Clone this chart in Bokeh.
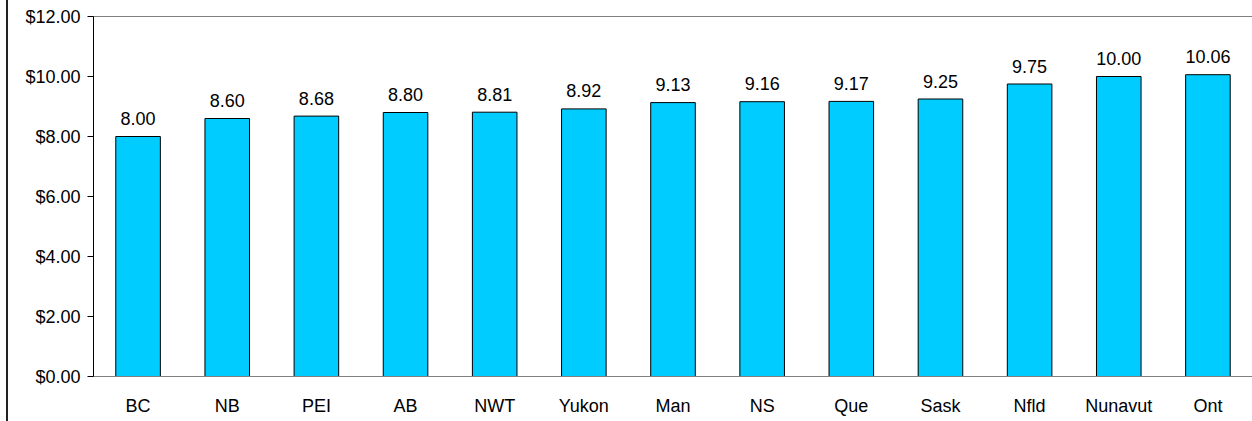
from bokeh.plotting import figure
from bokeh.models import ColumnDataSource, NumeralTickFormatter, FixedTicker, Range1d, FactorRange
from bokeh.core.properties import value
from bokeh.embed import file_html
from bokeh.resources import INLINE

categories = ["BC", "NB", "PEI", "AB", "NWT", "Yukon", "Man", "NS", "Que", "Sask", "Nfld", "Nunavut", "Ont"]
wages = [8.00, 8.60, 8.68, 8.80, 8.81, 8.92, 9.13, 9.16, 9.17, 9.25, 9.75, 10.00, 10.06]
y_ticks = [0, 2, 4, 6, 8, 10, 12]

src = ColumnDataSource(dict(cat=categories, val=wages, lab=["%.2f" % v for v in wages]))

FONT = "Liberation Sans"

p = figure(x_range=FactorRange(*categories, range_padding=0), y_range=Range1d(0, 12),
           frame_width=1159, frame_height=360,
           min_border_left=85, min_border_right=0, min_border_top=16, min_border_bottom=45,
           output_backend="svg", toolbar_location=None)
p.styles = {"margin-left": "6px", "border-left": "2px solid #222222"}

p.vbar(x="cat", top="val", width=0.5, source=src, fill_color="#00CCFF", line_color="black", line_width=1)
p.text(x="cat", y="val", text="lab", source=src, text_align="center", text_baseline="alphabetic",
       y_offset=-18, text_font=value(FONT), text_font_size="18px", text_color="black")

p.xgrid.visible = False
p.ygrid.visible = False
p.outline_line_color = "#808080"
p.outline_line_width = 1

ya = p.yaxis[0]
ya.ticker = FixedTicker(ticks=y_ticks)
ya.formatter = NumeralTickFormatter(format="$0.00")
ya.axis_line_color = "black"
ya.major_tick_line_color = "black"
ya.major_tick_out = 6
ya.major_tick_in = 0
ya.minor_tick_line_color = None
ya.major_label_standoff = 7
ya.major_label_text_font = FONT
ya.major_label_text_font_size = "18px"
ya.major_label_text_color = "black"

xa = p.xaxis[0]
xa.axis_line_color = "#808080"
xa.major_tick_line_color = None
xa.minor_tick_line_color = None
xa.major_label_standoff = 13
xa.major_label_text_font = FONT
xa.major_label_text_font_size = "18px"
xa.major_label_text_color = "black"

open("out.html", "w").write(file_html(p, INLINE))
